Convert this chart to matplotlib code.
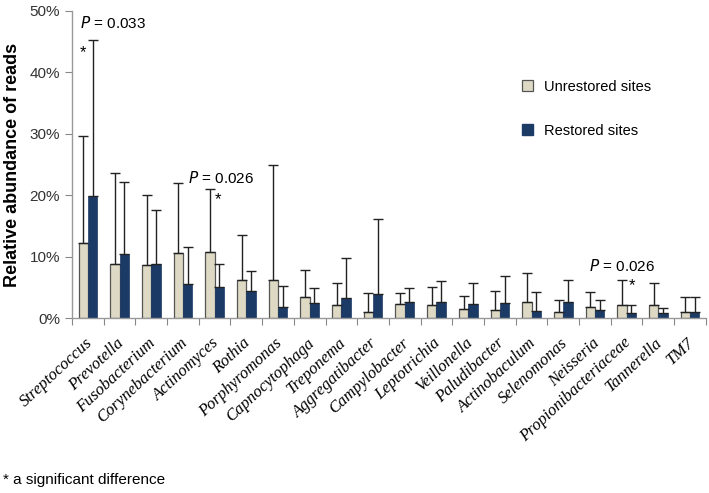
import matplotlib
matplotlib.use("Agg")
import matplotlib.pyplot as plt
import matplotlib.transforms as mtransforms
import numpy as np
from matplotlib.patches import Patch

plt.rcParams['font.family'] = ['Liberation Sans', 'DejaVu Sans']

# genera on the x axis
genera = ['Streptococcus', 'Prevotella', 'Fusobacterium', 'Corynebacterium', 'Actinomyces',
          'Rothia', 'Porphyromonas', 'Capnocytophaga', 'Treponema', 'Aggregatibacter',
          'Campylobacter', 'Leptotrichia', 'Veillonella', 'Paludibacter', 'Actinobaculum',
          'Selenomonas', 'Neisseria', 'Propionibacteriaceae', 'Tannerella', 'TM7']

# mean relative abundance (%) and upper error (SD)
unrestored = [12.2, 8.9, 8.6, 10.6, 10.8, 6.3, 6.2, 3.4, 2.1, 1.0,
              2.3, 2.2, 1.5, 1.4, 2.6, 1.1, 1.8, 2.2, 2.1, 1.1]
unrestored_top = [29.7, 23.6, 20.0, 22.0, 21.1, 13.6, 25.0, 7.8, 5.8, 4.1,
                  4.1, 5.1, 3.7, 4.5, 7.3, 2.9, 4.2, 6.2, 5.8, 3.4]
restored = [19.9, 10.4, 8.8, 5.6, 5.1, 4.4, 1.9, 2.5, 3.3, 3.9,
            2.6, 2.7, 2.4, 2.5, 1.2, 2.6, 1.3, 0.8, 0.8, 1.1]
restored_top = [45.2, 22.1, 17.6, 11.6, 8.9, 7.7, 5.3, 5.0, 9.8, 16.1,
                4.9, 6.1, 5.7, 6.9, 4.2, 6.3, 2.9, 2.1, 1.7, 3.4]

yticks = [0, 10, 20, 30, 40, 50]

unrestored = np.array(unrestored)
restored = np.array(restored)
err_u = np.array(unrestored_top) - unrestored
err_r = np.array(restored_top) - restored

c_unres = '#DDD9C4'
c_res = '#1B3A66'

fig = plt.figure(figsize=(7.09, 4.93), dpi=100)
ax = fig.add_axes([0.1016, 0.3544, 0.894, 0.6233])

x = np.arange(len(genera))
w = 0.294
ek = dict(ecolor='#222222', elinewidth=1.0, capsize=3.8, capthick=1.0)
ax.bar(x - w/2, unrestored, w, color=c_unres, edgecolor='#555555', linewidth=0.9,
       yerr=[np.zeros_like(err_u), err_u], error_kw=ek, zorder=2)
ax.bar(x + w/2, restored, w, color=c_res, edgecolor=c_res, linewidth=0.5,
       yerr=[np.zeros_like(err_r), err_r], error_kw=ek, zorder=2)

ax.set_xlim(-0.5, len(genera) - 0.5)
ax.set_ylim(0, 50)
ax.set_yticks(yticks)
ax.set_yticklabels(['%d%%' % t for t in yticks], fontsize=11, color='#333333')
ax.set_ylabel('Relative abundance of reads', fontsize=13, fontweight='bold', labelpad=6)

# x ticks: marks at group borders, labels at group centres
ax.set_xticks(np.arange(-0.5, len(genera), 1.0))
ax.set_xticklabels([])
ax.set_xticks(x, minor=True)
ax.set_xticklabels(genera, minor=True, rotation=43, ha='right', va='top',
                   fontsize=12, style='italic', family='Liberation Serif')
ax.tick_params(axis='x', which='minor', length=0, pad=12)
ax.tick_params(axis='x', which='major', length=5, color='#888888')
ax.tick_params(axis='y', length=5, color='#888888')
shift = mtransforms.ScaledTranslation(0.075, 0, fig.dpi_scale_trans)
for lbl in ax.get_xticklabels(minor=True):
    lbl.set_transform(lbl.get_transform() + shift)

for s in ['top', 'right']:
    ax.spines[s].set_visible(False)
for s in ['left', 'bottom']:
    ax.spines[s].set_color('#999999')
    ax.spines[s].set_linewidth(1.0)

# significance annotations
ax.text(-0.24, 47.2, '$P$ = 0.033', fontsize=11, va='baseline', ha='left')
ax.text(-0.17, 43.2, '*', fontsize=12, ha='center', va='center')
ax.text(3.17, 22.0, '$P$ = 0.026', fontsize=11, va='baseline', ha='left')
ax.text(4.12, 19.3, '*', fontsize=12, ha='center', va='center')
ax.text(15.82, 7.7, '$P$ = 0.026', fontsize=11, va='baseline', ha='left')
ax.text(17.16, 5.3, '*', fontsize=12, ha='center', va='center')

handles = [Patch(facecolor=c_unres, edgecolor='#555555', linewidth=0.9),
           Patch(facecolor=c_res, edgecolor=c_res)]
fig.legend(handles, ['Unrestored sites', 'Restored sites'], loc='upper left',
           bbox_to_anchor=(0.736, 0.838), frameon=False, fontsize=10.5,
           handlelength=0.75, handleheight=0.75, handletextpad=0.75,
           labelspacing=2.05, borderpad=0, borderaxespad=0)

fig.text(0.004, 0.026, '* a significant difference', fontsize=11, ha='left', va='center')

fig.savefig('out.png', dpi=100)
